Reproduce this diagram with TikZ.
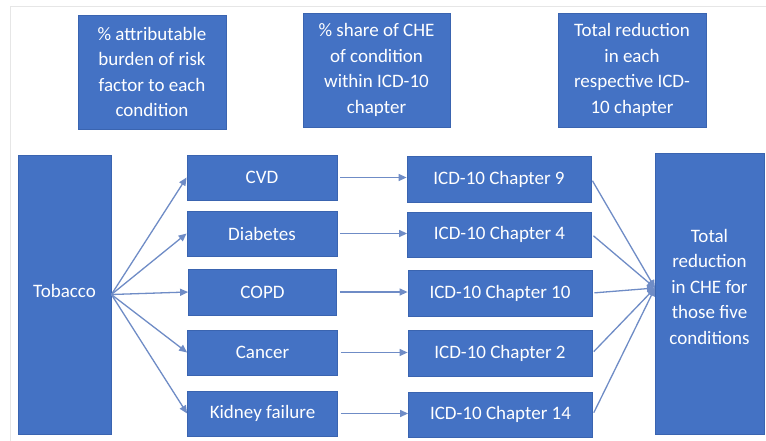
\documentclass[tikz,border=0pt]{standalone}
\usepackage{fontspec}
\setmainfont{Carlito}
\usetikzlibrary{arrows.meta}
\definecolor{boxblue}{HTML}{4472C4}
\definecolor{boxedge}{HTML}{3A64B0}
\definecolor{arrowc}{HTML}{6F8CC6}
\definecolor{framec}{HTML}{E6E6E6}
\begin{document}
\begin{tikzpicture}[x=1pt,y=-1pt,
  bluebox/.style={draw=boxedge, line width=0.8pt, fill=boxblue, text=white,
    align=center, inner sep=2pt, font=\fontsize{19}{25.6}\selectfont},
  conn/.style={draw=arrowc, line width=1.3pt, -{Triangle[length=8pt,width=7pt]}}]
\useasboundingbox (0,0) rectangle (766,440);
\fill[white] (0,0) rectangle (766,440);
\draw[framec, line width=1pt] (10,445) -- (10,6) -- (770,6);
% top boxes
\node[bluebox, minimum width=148pt, minimum height=114pt] (ta) at (152,72) {\% attributable\\burden of risk\\factor to each\\condition};
\node[bluebox, minimum width=147pt, minimum height=114pt] (tb) at (376.5,70) {\% share of CHE\\of condition\\within ICD-10\\chapter};
\node[bluebox, minimum width=148pt, minimum height=114pt] (tc) at (632,70) {Total reduction\\in each\\respective ICD-\\10 chapter};
% tobacco
\node[bluebox, minimum width=93pt, minimum height=279pt] (tob) at (64.5,294.5) {\raisebox{7pt}{Tobacco}};
% conditions
\node[bluebox, minimum width=150pt, minimum height=45pt] (cvd) at (262,177.5) {CVD};
\node[bluebox, minimum width=150pt, minimum height=45pt] (dia) at (262,233.5) {Diabetes};
\node[bluebox, minimum width=148pt, minimum height=46pt] (cop) at (262.5,292) {COPD};
\node[bluebox, minimum width=150pt, minimum height=45pt] (can) at (262.5,352.5) {Cancer};
\node[bluebox, minimum width=150pt, minimum height=45pt] (kid) at (262.5,413.5) {Kidney failure};
% chapters
\node[bluebox, minimum width=184pt, minimum height=46pt] (c9) at (499,179) {ICD-10 Chapter 9};
\node[bluebox, minimum width=184pt, minimum height=45pt] (c4) at (499.5,234.5) {ICD-10 Chapter 4};
\node[bluebox, minimum width=184pt, minimum height=46pt] (c10) at (500,293) {ICD-10 Chapter 10};
\node[bluebox, minimum width=184pt, minimum height=46pt] (c2) at (500,353) {ICD-10 Chapter 2};
\node[bluebox, minimum width=184pt, minimum height=45pt] (c14) at (500.5,414.5) {ICD-10 Chapter 14};
% total
\node[bluebox, minimum width=109pt, minimum height=281pt] (tot) at (709.5,293.5) {Total\\reduction\\in CHE for\\those five\\conditions\\[-12pt]\mbox{}};
\coordinate (conv) at (655,288);
% tobacco -> conditions
\foreach \n in {cvd,dia,cop,can,kid} \draw[conn] (tob.east) -- (\n.west);
% conditions -> chapters
\draw[conn, shorten <=3pt] (cvd.east) -- (cvd.east -| c9.west);
\draw[conn, shorten <=3pt] (dia.east) -- (dia.east -| c4.west);
\draw[conn, shorten <=3pt] (cop.east) -- (cop.east -| c10.west);
\draw[conn, shorten <=3pt] (can.east) -- (can.east -| c2.west);
\draw[conn, shorten <=3pt] (kid.east) -- (kid.east -| c14.west);
% chapters -> total
\foreach \n in {c9,c4,c10,c2,c14} \draw[conn, shorten <=2pt] (\n.east) -- (conv);
\end{tikzpicture}
\end{document}
